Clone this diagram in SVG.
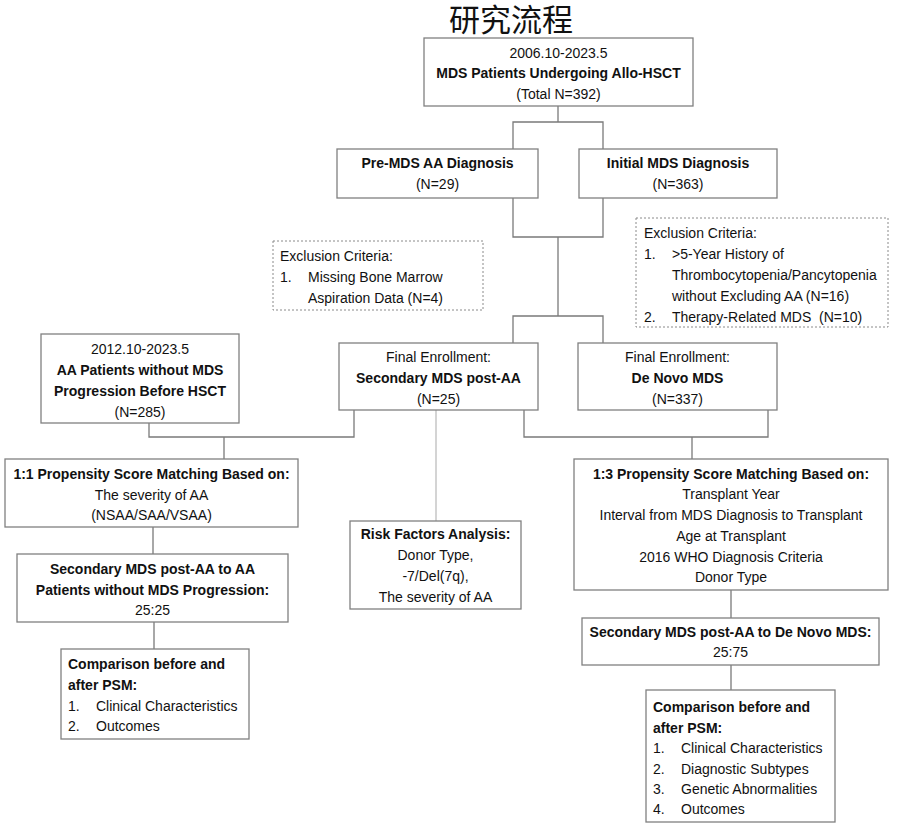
<svg xmlns="http://www.w3.org/2000/svg" width="904" height="826" viewBox="0 0 904 826">
<style>
.box{fill:#fff;stroke:#808080;stroke-width:1.3}
.dot{fill:#fff;stroke:#8a8a8a;stroke-width:1;stroke-dasharray:2 2}
.ln{fill:none;stroke:#7a7a7a;stroke-width:1.3}
.lt{fill:none;stroke:#bdbdbd;stroke-width:1.3}
text{font-family:"Liberation Sans",Arial,sans-serif;font-size:14px;fill:#111}
.c{text-anchor:middle}
.b{font-weight:bold}
.t{font-family:"Liberation Serif","Noto Sans CJK SC","Noto Sans CJK JP",serif;font-size:31px;fill:#111}
</style>
<rect width="904" height="826" fill="#fff"/>
<text class="t c" x="511" y="31">研究流程</text>
<g id="connectors">
<path class="ln" d="M558,106 V122 M513,149 V122 H603 V149"/>
<path class="ln" d="M513,198 V237 H603 V198 M558,237 V316 M513,343 V316 H603 V343"/>
<path class="ln" d="M149,423 V437 H354 V410 M224,437 V459"/>
<path class="ln" d="M524,410 V437 H768 V410 M692,437 V459"/>
<path class="lt" d="M436,410 V521"/>
<path class="ln" d="M153,527 V554 M154,622 V649"/>
<path class="ln" d="M731,590 V618 M731,665 V690"/>
</g>
<g id="n-total">
<rect class="box" x="424" y="38" width="269" height="68"/>
<text class="c" x="558.5" y="58">2006.10-2023.5</text>
<text class="c b" x="558.5" y="78">MDS Patients Undergoing Allo-HSCT</text>
<text class="c" x="558.5" y="99">(Total N=392)</text>
</g>
<g id="n-premds">
<rect class="box" x="337" y="149" width="201" height="49"/>
<text class="c b" x="437.5" y="168">Pre-MDS AA Diagnosis</text>
<text class="c" x="437.5" y="189">(N=29)</text>
</g>
<g id="n-initial">
<rect class="box" x="579" y="149" width="198" height="49"/>
<text class="c b" x="678" y="168">Initial MDS Diagnosis</text>
<text class="c" x="678" y="189">(N=363)</text>
</g>
<g id="n-excl-left">
<rect class="dot" x="273" y="241" width="210" height="69"/>
<text x="280" y="261">Exclusion Criteria:</text>
<text x="280" y="282">1.</text>
<text x="308" y="282">Missing Bone Marrow</text>
<text x="308" y="303">Aspiration Data (N=4)</text>
</g>
<g id="n-excl-right">
<rect class="dot" x="636" y="218" width="252" height="109"/>
<text x="644" y="238">Exclusion Criteria:</text>
<text x="644" y="259">1.</text>
<text x="672" y="259">&gt;5-Year History of</text>
<text x="672" y="280">Thrombocytopenia/Pancytopenia</text>
<text x="672" y="301">without Excluding AA (N=16)</text>
<text x="644" y="322">2.</text>
<text x="672" y="322" xml:space="preserve">Therapy-Related MDS  (N=10)</text>
</g>
<g id="n-aa">
<rect class="box" x="41" y="334" width="198" height="89"/>
<text class="c" x="140" y="354">2012.10-2023.5</text>
<text class="c b" x="140" y="375">AA Patients without MDS</text>
<text class="c b" x="140" y="396">Progression Before HSCT</text>
<text class="c" x="140" y="417">(N=285)</text>
</g>
<g id="n-secondary">
<rect class="box" x="339" y="343" width="199" height="67"/>
<text class="c" x="438.5" y="362">Final Enrollment:</text>
<text class="c b" x="438.5" y="383">Secondary MDS post-AA</text>
<text class="c" x="438.5" y="404">(N=25)</text>
</g>
<g id="n-denovo">
<rect class="box" x="578" y="343" width="199" height="67"/>
<text class="c" x="677.5" y="362">Final Enrollment:</text>
<text class="c b" x="677.5" y="383">De Novo MDS</text>
<text class="c" x="677.5" y="404">(N=337)</text>
</g>
<g id="n-psm11">
<rect class="box" x="5" y="459" width="293" height="68"/>
<text class="c b" x="151.5" y="479">1:1 Propensity Score Matching Based on:</text>
<text class="c" x="151.5" y="500">The severity of AA</text>
<text class="c" x="151.5" y="520">(NSAA/SAA/VSAA)</text>
</g>
<g id="n-sec-aa">
<rect class="box" x="17" y="554" width="271" height="68"/>
<text class="c b" x="152.5" y="574">Secondary MDS post-AA to AA</text>
<text class="c b" x="152.5" y="595">Patients without MDS Progression:</text>
<text class="c" x="152.5" y="615">25:25</text>
</g>
<g id="n-cmp-left">
<rect class="box" x="61" y="649" width="188" height="90"/>
<text class="b" x="68" y="669">Comparison before and</text>
<text class="b" x="68" y="690">after PSM:</text>
<text x="68" y="711">1.</text>
<text x="96" y="711">Clinical Characteristics</text>
<text x="68" y="731">2.</text>
<text x="96" y="731">Outcomes</text>
</g>
<g id="n-risk">
<rect class="box" x="350" y="521" width="171" height="88"/>
<text class="c b" x="435.5" y="539">Risk Factors Analysis:</text>
<text class="c" x="435.5" y="560">Donor Type,</text>
<text class="c" x="435.5" y="581">-7/Del(7q),</text>
<text class="c" x="435.5" y="602">The severity of AA</text>
</g>
<g id="n-psm13">
<rect class="box" x="574" y="459" width="314" height="131"/>
<text class="c b" x="731" y="479">1:3 Propensity Score Matching Based on:</text>
<text class="c" x="731" y="499">Transplant Year</text>
<text class="c" x="731" y="520">Interval from MDS Diagnosis to Transplant</text>
<text class="c" x="731" y="541">Age at Transplant</text>
<text class="c" x="731" y="562">2016 WHO Diagnosis Criteria</text>
<text class="c" x="731" y="582">Donor Type</text>
</g>
<g id="n-sec-dn">
<rect class="box" x="582" y="618" width="297" height="47"/>
<text class="c b" x="730.5" y="637">Secondary MDS post-AA to De Novo MDS:</text>
<text class="c" x="730.5" y="657">25:75</text>
</g>
<g id="n-cmp-right">
<rect class="box" x="646" y="690" width="189" height="132"/>
<text class="b" x="653" y="712">Comparison before and</text>
<text class="b" x="653" y="733">after PSM:</text>
<text x="653" y="753">1.</text>
<text x="681" y="753">Clinical Characteristics</text>
<text x="653" y="774">2.</text>
<text x="681" y="774">Diagnostic Subtypes</text>
<text x="653" y="794">3.</text>
<text x="681" y="794">Genetic Abnormalities</text>
<text x="653" y="814">4.</text>
<text x="681" y="814">Outcomes</text>
</g>
</svg>
